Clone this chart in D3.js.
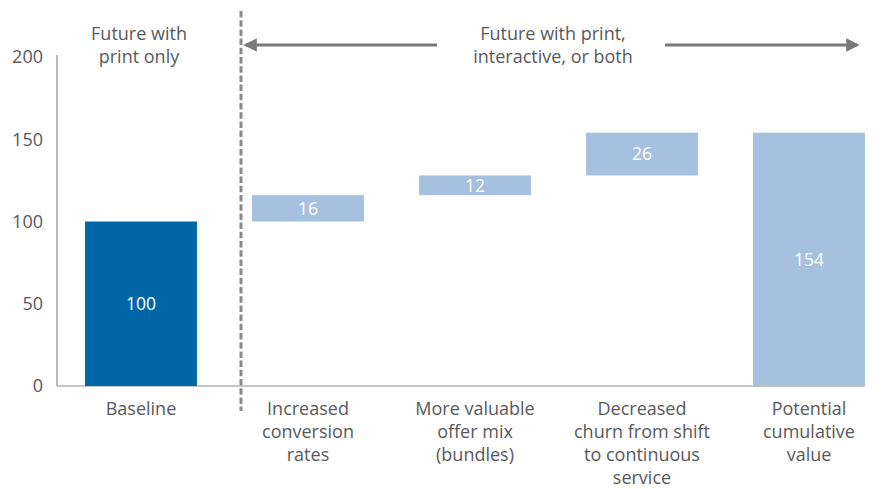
<!DOCTYPE html>
<html>
<head>
<meta charset="utf-8">
<script src="https://cdn.jsdelivr.net/npm/d3@7"></script>
<style>
  body { margin: 0; background: #fff; }
  svg text { font-family: "Open Sans", "Noto Sans", sans-serif; }
</style>
</head>
<body>
<svg id="chart" width="883" height="489"></svg>
<script>
// Waterfall: baseline value, incremental gains, cumulative total
const categories = [
  ["Baseline"],
  ["Increased", "conversion", "rates"],
  ["More valuable", "offer mix", "(bundles)"],
  ["Decreased", "churn from shift", "to continuous", "service"],
  ["Potential", "cumulative", "value"]
];
const barStarts = [0, 100, 116, 128, 0];
const barValues = [100, 16, 12, 26, 154];
const barKinds = ["base", "step", "step", "step", "total"];
const yTicks = [0, 50, 100, 150, 200];

const colors = { base: "#0066a6", step: "#a6c0df", total: "#a6c0df" };
const textGray = "#58595b";

const svg = d3.select("#chart");

const y = d3.scaleLinear().domain([0, 200]).range([386, 57]);
const x = d3.scaleBand()
  .domain(d3.range(categories.length))
  .range([57, 893])
  .paddingInner(0.33)
  .paddingOuter(0.168);

// Axes lines
svg.append("line")
  .attr("x1", 57).attr("x2", 57)
  .attr("y1", 55).attr("y2", y(0))
  .attr("stroke", "#8c8c8c").attr("stroke-width", 1.2);
svg.append("line")
  .attr("x1", 57).attr("x2", x(categories.length - 1) + x.bandwidth())
  .attr("y1", y(0)).attr("y2", y(0))
  .attr("stroke", "#8c8c8c").attr("stroke-width", 1.2);

// Y tick labels
const yAxis = d3.axisLeft(y).tickValues(yTicks).tickSize(0).tickPadding(14);
const gy = svg.append("g").attr("transform", "translate(57,0)").call(yAxis);
gy.select(".domain").remove();
gy.selectAll("text")
  .attr("fill", textGray)
  .style("font-size", "18px");

// Bars
svg.selectAll("rect.bar")
  .data(barValues)
  .join("rect")
  .attr("class", "bar")
  .attr("x", (d, i) => x(i))
  .attr("width", x.bandwidth())
  .attr("y", (d, i) => y(barStarts[i] + d))
  .attr("height", (d, i) => y(barStarts[i]) - y(barStarts[i] + d))
  .attr("fill", (d, i) => colors[barKinds[i]]);

// Value labels
svg.selectAll("text.val")
  .data(barValues)
  .join("text")
  .attr("class", "val")
  .attr("x", (d, i) => x(i) + x.bandwidth() / 2)
  .attr("y", (d, i) => (y(barStarts[i]) + y(barStarts[i] + d)) / 2)
  .attr("dy", "0.36em")
  .attr("text-anchor", "middle")
  .attr("fill", "#fff")
  .style("font-size", "17.5px")
  .text(d => d);

// Category labels
categories.forEach((lines, i) => {
  const t = svg.append("text")
    .attr("text-anchor", "middle")
    .attr("fill", textGray)
    .style("font-size", "18px");
  lines.forEach((ln, j) => {
    t.append("tspan")
      .attr("x", x(i) + x.bandwidth() / 2)
      .attr("y", 415 + j * 23)
      .text(ln);
  });
});

// Divider between print-only and print/interactive futures
const divX = 241;
svg.append("line")
  .attr("x1", divX).attr("x2", divX)
  .attr("y1", 11).attr("y2", 411)
  .attr("stroke", "#8a8a8d").attr("stroke-width", 3)
  .attr("stroke-dasharray", "6.5,2.7");

// Header texts
function header(cx, lines) {
  const t = svg.append("text")
    .attr("text-anchor", "middle")
    .attr("fill", textGray)
    .style("font-size", "18px");
  lines.forEach((ln, j) => {
    t.append("tspan").attr("x", cx).attr("y", 39.5 + j * 23).text(ln);
  });
}
header(139, ["Future with", "print only"]);
header(553, ["Future with print,", "interactive, or both"]);

// Arrows
const defs = svg.append("defs");
defs.append("marker")
  .attr("id", "head")
  .attr("viewBox", "0 0 10 10")
  .attr("refX", 8).attr("refY", 5)
  .attr("markerWidth", 4.5).attr("markerHeight", 4.5)
  .attr("orient", "auto-start-reverse")
  .append("path")
  .attr("d", "M0,0 L10,5 L0,10 Z")
  .attr("fill", "#7a7a7c");

const arrowY = 45;
svg.append("line")
  .attr("x1", 437).attr("x2", 246)
  .attr("y1", arrowY).attr("y2", arrowY)
  .attr("stroke", "#7a7a7c").attr("stroke-width", 3)
  .attr("marker-end", "url(#head)");
svg.append("line")
  .attr("x1", 665).attr("x2", 857)
  .attr("y1", arrowY).attr("y2", arrowY)
  .attr("stroke", "#7a7a7c").attr("stroke-width", 3)
  .attr("marker-end", "url(#head)");
</script>
</body>
</html>
